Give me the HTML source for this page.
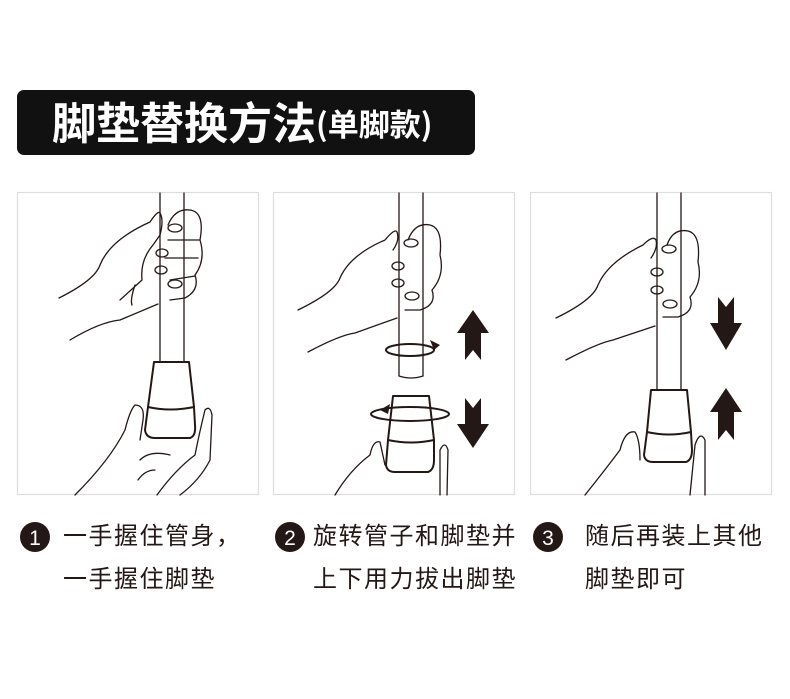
<!DOCTYPE html>
<html><head><meta charset="utf-8"><style>
html,body{margin:0;padding:0;background:#fff;}
body{width:790px;height:699px;position:relative;overflow:hidden;font-family:"Liberation Sans","Noto Sans CJK SC",sans-serif;}
.t{position:absolute;font-size:24px;letter-spacing:1.5px;color:#231815;white-space:nowrap;line-height:1;}
</style></head><body>
<svg width="790" height="699" style="position:absolute;left:0;top:0">
<rect x="17" y="90" width="458" height="65" rx="7" fill="#111"/>
<text x="52" y="139" fill="#fff" font-size="44" font-weight="bold" font-family="Noto Sans CJK SC, sans-serif">脚垫替换方法<tspan font-size="31" dy="-3">(单脚款)</tspan></text>
<g fill="none" stroke="#ddd" stroke-width="1.2">
<rect x="17.5" y="192.5" width="241" height="302"/>
<rect x="273.5" y="192.5" width="241" height="302"/>
<rect x="530.5" y="192.5" width="241" height="302"/>
</g>
<g fill="none" stroke="#231815" stroke-width="1.3" stroke-linejoin="round" stroke-linecap="round">
<line x1="160" y1="193" x2="160" y2="362"/><line x1="184" y1="193" x2="184" y2="362"/>
<path d="M154 362 L189 362 L194 407 Q170 412 148 407 Z" stroke-width="2"/>
<path d="M148 407 L145 430 Q146 438 155 438 L190 438 Q196 436 195 425 L194 407" stroke-width="2"/>
<path d="M59 298 Q95 280 100 265 Q110 240 150 222 Q158 210 160 213 Q164 220 160 235 L153 245 Q140 260 142 280 L120 300 M70 340 Q100 322 120 320 L158 304 M135 285 Q130 300 132 305"/>
<path d="M168 225 Q175 208 190 210 Q205 212 200 240 Q206 260 195 275 Q200 290 185 298 L170 300 M168 240 Q185 240 200 240 M165 258 L198 258 M170 280 L195 276"/>
<ellipse cx="175" cy="228" rx="7" ry="4"/><ellipse cx="162" cy="253" rx="6" ry="4"/><ellipse cx="161" cy="270" rx="6" ry="4"/><ellipse cx="175" cy="284" rx="7" ry="4"/>
<path d="M75 495 Q110 460 125 430 Q130 410 135 405 Q145 405 143 420 L140 440 M157 495 Q175 470 195 455 Q200 430 205 410 Q210 405 212 415 L210 460 Q200 480 180 495 M140 460 Q150 450 170 455 M138 480 Q145 470 155 470"/>
<line x1="399" y1="193" x2="399" y2="376"/><line x1="423" y1="193" x2="423" y2="376"/>
<path d="M399 376 Q411 380 423 376"/>
<path d="M393 396 L429 396 L434 440 Q411 445 388 440 Z" stroke-width="2"/>
<path d="M388 440 L386 465 Q387 472 395 472 L428 472 Q434 470 434 460 L434 440" stroke-width="2"/>
<path d="M298 310 Q335 292 340 278 Q350 255 385 240 Q395 228 397 232 Q400 240 393 250 M308 352 Q340 335 355 333 L397 318"/>
<path d="M408 240 Q415 222 430 225 Q443 228 440 255 Q445 275 432 290 Q437 305 420 310 L405 310"/>
<ellipse cx="411" cy="243" rx="7" ry="4"/><ellipse cx="398" cy="266" rx="6" ry="4"/><ellipse cx="398" cy="283" rx="6" ry="4"/><ellipse cx="412" cy="296" rx="7" ry="4"/>
<ellipse cx="410" cy="350" rx="24" ry="6" stroke-width="2"/>
<ellipse cx="410" cy="414" rx="39" ry="7" stroke-width="2"/>
<path d="M335 495 Q350 470 370 455 Q373 440 380 442 L385 465 M440 495 L440 450 Q445 440 448 450 L447 495"/>
<line x1="657" y1="193" x2="657" y2="390"/><line x1="681" y1="193" x2="681" y2="390"/>
<path d="M651 390 L687 390 L691 432 Q669 437 647 432 Z" stroke-width="2"/>
<path d="M647 432 L644 455 Q645 462 653 462 L686 462 Q692 460 692 450 L691 432" stroke-width="2"/>
<path d="M556 318 Q593 300 598 285 Q608 262 643 245 Q653 235 656 240 Q658 248 651 258 M566 360 Q598 343 613 340 L655 326"/>
<path d="M667 245 Q673 228 688 231 Q701 234 698 262 Q703 282 690 297 Q695 312 678 317 L663 317"/>
<ellipse cx="669" cy="249" rx="7" ry="4"/><ellipse cx="657" cy="272" rx="6" ry="4"/><ellipse cx="657" cy="290" rx="6" ry="4"/><ellipse cx="670" cy="304" rx="7" ry="4"/>
<path d="M585 495 Q605 470 620 450 Q625 430 635 432 Q640 440 640 460 M690 495 L695 445 Q700 430 705 440 L705 495"/>
</g>
<g fill="#231815">
<polygon points="430,340 440,345 434,350"/><polygon points="380,410 390,404 388,414"/>
<polygon points="473,310 489,333 481,333 481,360 473,350 465,360 465,333 457,333"/>
<polygon points="465,398 473,408 481,398 481,424 489,424 473,448 457,424 465,424"/>
<polygon points="718,297 726,307 734,297 734,323 742,323 726,350 710,323 718,323"/>
<polygon points="726,388 742,412 734,412 734,440 726,430 718,440 718,412 710,412"/>
<circle cx="35" cy="537" r="15"/><circle cx="290" cy="537" r="15"/><circle cx="548" cy="537" r="15"/>
</g>
<g fill="#fff" font-size="21" text-anchor="middle" font-family="Liberation Sans, sans-serif">
<text x="35" y="545">1</text><text x="290" y="545">2</text><text x="548" y="545">3</text>
</g>
</svg>
<div class="t" style="left:63px;top:525px">一手握住管身，</div>
<div class="t" style="left:63px;top:568px">一手握住脚垫</div>
<div class="t" style="left:313px;top:525px">旋转管子和脚垫并</div>
<div class="t" style="left:313px;top:568px">上下用力拔出脚垫</div>
<div class="t" style="left:585px;top:525px">随后再装上其他</div>
<div class="t" style="left:585px;top:568px">脚垫即可</div>
</body></html>
